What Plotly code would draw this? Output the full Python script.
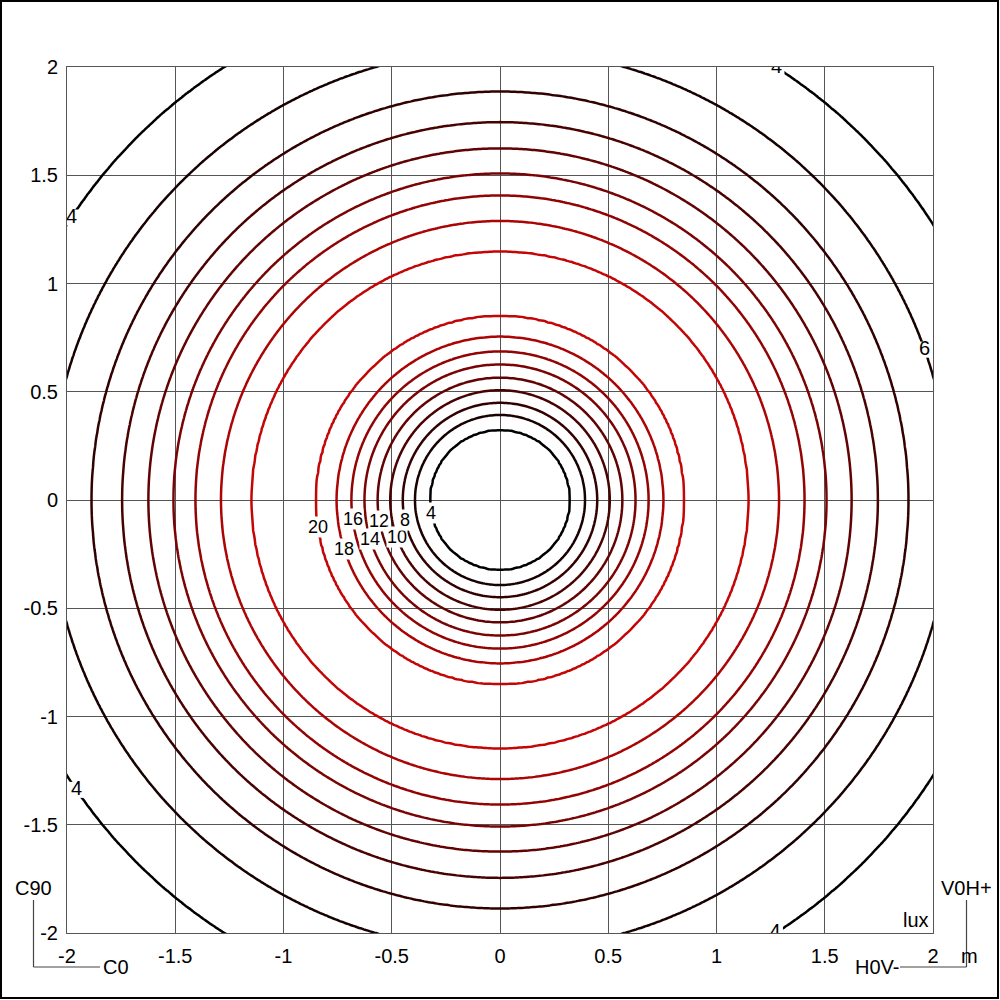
import numpy as np
import plotly.graph_objects as go

# ---- data (isolux levels and the radii where each ring crosses the axes) ----
levels = [4, 6, 8, 10, 12, 14, 16, 18, 20]
inner_radius = [0.325, 0.393, 0.449, 0.507, 0.565, 0.626, 0.686, 0.754, 0.849]
outer_radius = [2.37, 2.08, 1.886, 1.745, 1.624, 1.508, 1.407, 1.289, 1.149]
center_lux = 2.0
peak_lux = 21.0
peak_radius = 1.0
rim_lux = 1.0
rim_radius = 3.2

tick_vals = [-2, -1.5, -1, -0.5, 0, 0.5, 1, 1.5, 2]
tick_text = ["-2", "-1.5", "-1", "-0.5", "0", "0.5", "1", "1.5", "2"]

inner_label_levels = [20, 18, 16, 14, 12, 10, 8, 4]
inner_label_angles = [188.5, 197.5, 187.3, 196.7, 189.8, 199.8, 191.6, 190.5]
edge_label_levels = [6, 4, 4, 4, 4]
edge_label_angles = [19.5, 57.4, 146.6, 214.4, 302.4]

# ---- build the radial lux profile and the grid for the contour trace ----
r_prof = [0.0] + inner_radius + [peak_radius] + outer_radius[::-1] + [rim_radius]
v_prof = [center_lux] + levels + [peak_lux] + levels[::-1] + [rim_lux]
g = np.linspace(-2.2, 2.2, 441)
X, Y = np.meshgrid(g, g)
Z = np.interp(np.hypot(X, Y), r_prof, v_prof)

FONT = "Liberation Sans, Arial, sans-serif"

fig = go.Figure()
fig.add_trace(go.Contour(
    x=g, y=g, z=Z,
    contours=dict(start=4, end=20, size=2, coloring="lines", showlabels=False),
    colorscale=[[0, "rgb(0,0,0)"], [1, "rgb(195,5,5)"]],
    zmin=4, zmax=20, zauto=False,
    line=dict(width=2.5, smoothing=0),
    showscale=False, hoverinfo="skip",
))

# edge labels (clipped by the plot area)
inner_map = dict(zip(levels, inner_radius))
outer_map = dict(zip(levels, outer_radius))
ex = [outer_map[l] * np.cos(np.radians(a)) for l, a in zip(edge_label_levels, edge_label_angles)]
ey = [outer_map[l] * np.sin(np.radians(a)) for l, a in zip(edge_label_levels, edge_label_angles)]
fig.add_trace(go.Scatter(
    x=ex, y=ey, mode="markers+text", text=[str(l) for l in edge_label_levels],
    textposition="middle center",
    marker=dict(symbol="square", size=16, color="white"),
    textfont=dict(family=FONT, size=20, color="black"),
    cliponaxis=True, showlegend=False, hoverinfo="skip",
))

annotations = []
for l, a in zip(inner_label_levels, inner_label_angles):
    r = inner_map[l]
    annotations.append(dict(
        x=r * np.cos(np.radians(a)), y=r * np.sin(np.radians(a)), xref="x", yref="y",
        text=str(l), showarrow=False, bgcolor="white", borderpad=0,
        font=dict(family=FONT, size=18, color="black"),
    ))

W = H = 1000
L = T = 67
PW = 866

def px(x):
    return (x - L) / PW

def py(y):
    return (L + PW - y) / PW

font_side = dict(family=FONT, size=20, color="black")
for txt, x, y, xa in [("C90", 33, 888, "center"), ("C0", 101, 967, "left"),
                       ("V0H+", 966, 888, "center"), ("H0V-", 901, 967, "right"),
                       ("lux", 931, 920, "right"), ("m", 969, 956, "center")]:
    annotations.append(dict(x=px(x), y=py(y), xref="paper", yref="paper", text=txt,
                            showarrow=False, xanchor=xa, yanchor="middle", font=font_side))

shapes = [
    dict(type="rect", xref="paper", yref="paper", x0=px(1), x1=px(998), y0=py(998), y1=py(1),
         line=dict(color="black", width=2)),
    dict(type="line", xref="paper", yref="paper", x0=px(33.5), x1=px(33.5), y0=py(900), y1=py(967),
         line=dict(color="#444", width=1.2)),
    dict(type="line", xref="paper", yref="paper", x0=px(33.5), x1=px(100), y0=py(967), y1=py(967),
         line=dict(color="#444", width=1.2)),
    dict(type="line", xref="paper", yref="paper", x0=px(966.5), x1=px(966.5), y0=py(900), y1=py(967),
         line=dict(color="#444", width=1.2)),
    dict(type="line", xref="paper", yref="paper", x0=px(900), x1=px(966.5), y0=py(967), y1=py(967),
         line=dict(color="#444", width=1.2)),
]

axis_common = dict(
    range=[-2, 2], tickvals=tick_vals, ticktext=tick_text,
    showgrid=True, gridcolor="#555555", gridwidth=1,
    showline=True, linecolor="#555555", linewidth=1, mirror=True,
    zeroline=False, ticks="outside", tickcolor="rgba(0,0,0,0)",
    tickfont=dict(family=FONT, size=20, color="black"),
)

fig.update_layout(
    width=W, height=H,
    margin=dict(l=L, r=W - L - PW, t=T, b=H - T - PW),
    paper_bgcolor="white", plot_bgcolor="white",
    xaxis=dict(**axis_common, ticklen=5),
    yaxis=dict(**axis_common, ticklen=4),
    showlegend=False,
    annotations=annotations, shapes=shapes,
)

fig.write_html("out.html", config={"displayModeBar": False},
               post_script="document.body.style.margin='0';document.body.style.overflow='hidden';")
